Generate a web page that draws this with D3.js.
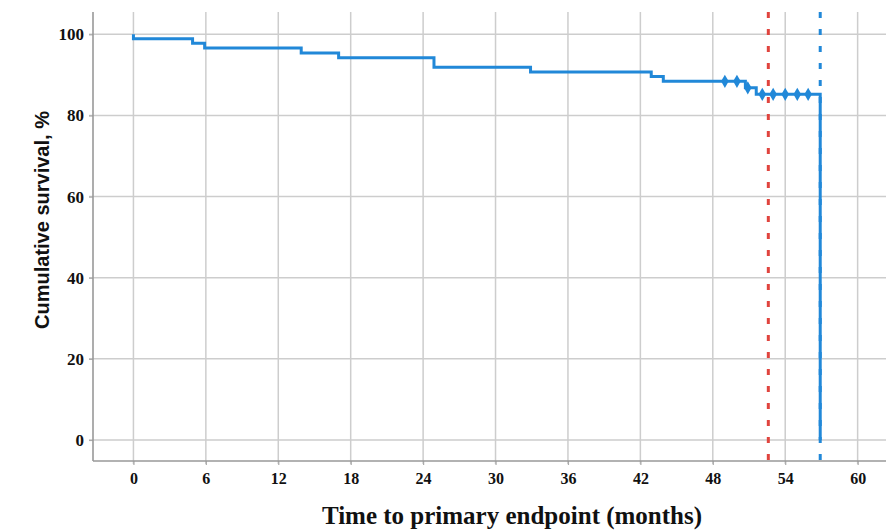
<!DOCTYPE html>
<html>
<head>
<meta charset="utf-8">
<script src="https://cdn.jsdelivr.net/npm/d3@7/dist/d3.min.js"></script>
<style>
  html, body { margin: 0; padding: 0; background: #ffffff; }
  svg { display: block; }
</style>
</head>
<body>
<div id="chart"></div>
<script>
// ---- data ----
const eventTimes    = [0, 0, 4.9, 5.9, 13.9, 17.0, 24.9, 32.9, 42.9, 43.9, 50.7, 51.6, 56.9];
const survivalPct   = [100, 98.9, 97.8, 96.6, 95.4, 94.2, 91.9, 90.7, 89.6, 88.4, 86.8, 85.2, 0];
const censorTimes   = [49.0, 50.0, 50.9, 52.1, 53.0, 54.0, 55.0, 55.9];
const refLineTimes  = [52.6, 56.9];
const xTickValues   = [0, 6, 12, 18, 24, 30, 36, 42, 48, 54, 60];
const yTickValues   = [0, 20, 40, 60, 80, 100];
const xTitle = "Time to primary endpoint (months)";
const yTitle = "Cumulative survival, %";

const W = 886, H = 531;
const pLeft = 93, pRight = 886, pTop = 12, pBottom = 461;

const svg = d3.select("#chart").append("svg")
  .attr("width", W).attr("height", H);

const x = d3.scaleLinear().domain([-3.35, 62.35]).range([pLeft, pRight]);
const y = d3.scaleLinear().domain([-5.18, 105.5]).range([pBottom, pTop]);

// gridlines
const grid = svg.append("g");
grid.selectAll("line.vg").data(xTickValues).join("line")
  .attr("x1", d => x(d)).attr("x2", d => x(d))
  .attr("y1", pTop).attr("y2", pBottom + 3)
  .attr("stroke", "#cdcdcd").attr("stroke-width", 1.5);
grid.selectAll("line.hg").data(yTickValues).join("line")
  .attr("x1", pLeft - 4).attr("x2", pRight)
  .attr("y1", d => y(d)).attr("y2", d => y(d))
  .attr("stroke", "#cdcdcd").attr("stroke-width", 1.5);

// axes
const xAxis = d3.axisBottom(x).tickValues(xTickValues).tickSize(4).tickPadding(8).tickFormat(d3.format("d"));
const yAxis = d3.axisLeft(y).tickValues(yTickValues).tickSize(4).tickPadding(5).tickFormat(d3.format("d"));

const gx = svg.append("g").attr("transform", `translate(0,${pBottom})`).call(xAxis);
const gy = svg.append("g").attr("transform", `translate(${pLeft},0)`).call(yAxis);
[gx, gy].forEach(g => {
  g.select(".domain").remove();
  g.selectAll(".tick line").attr("stroke", "#aaaaaa").attr("stroke-width", 1.2);
  g.selectAll(".tick text")
    .attr("fill", "#111")
    .style("font-family", "'Liberation Serif', 'Times New Roman', serif")
    .style("font-weight", "bold")
    .style("font-size", "16px");
});
gy.selectAll(".tick text").style("font-size", "17px");

// axis lines
svg.append("line").attr("x1", pLeft).attr("x2", pLeft).attr("y1", pTop).attr("y2", pBottom)
  .attr("stroke", "#999").attr("stroke-width", 1.6);
svg.append("line").attr("x1", pLeft).attr("x2", pRight).attr("y1", pBottom).attr("y2", pBottom)
  .attr("stroke", "#999").attr("stroke-width", 1.6);

// reference dashed lines
const refColors = ["#e0443e", "#2188d8"];
svg.selectAll("line.ref").data(refLineTimes).join("line")
  .attr("x1", d => x(d)).attr("x2", d => x(d))
  .attr("y1", pTop).attr("y2", pBottom)
  .attr("stroke", (d, i) => refColors[i])
  .attr("stroke-width", 3)
  .attr("stroke-dasharray", "6,11");

// survival curve
const pts = eventTimes.map((t, i) => [t, survivalPct[i]]);
const line = d3.line().x(d => x(d[0])).y(d => y(d[1])).curve(d3.curveStepAfter);
svg.append("path").datum(pts)
  .attr("d", line)
  .attr("fill", "none")
  .attr("stroke", "#2188d8")
  .attr("stroke-width", 3)
  .attr("stroke-linejoin", "miter");

// censor marks
function levelAt(t) {
  let v = survivalPct[0];
  for (let i = 0; i < eventTimes.length; i++) if (eventTimes[i] <= t) v = survivalPct[i];
  return v;
}
svg.selectAll("path.censor").data(censorTimes).join("path")
  .attr("transform", d => `translate(${x(d)},${y(levelAt(d))})`)
  .attr("d", d3.symbol().type(d3.symbolDiamond).size(50))
  .attr("fill", "#2188d8");

// titles
svg.append("text")
  .attr("x", 512).attr("y", 524)
  .attr("text-anchor", "middle")
  .style("font-family", "'Liberation Serif', 'Times New Roman', serif")
  .style("font-weight", "bold")
  .style("font-size", "25px")
  .attr("fill", "#111")
  .text(xTitle);

svg.append("text")
  .attr("transform", "translate(49,220) rotate(-90)")
  .attr("text-anchor", "middle")
  .style("font-family", "'Liberation Sans', Arial, sans-serif")
  .style("font-weight", "bold")
  .style("font-size", "20px")
  .attr("fill", "#111")
  .text(yTitle);
</script>
</body>
</html>
